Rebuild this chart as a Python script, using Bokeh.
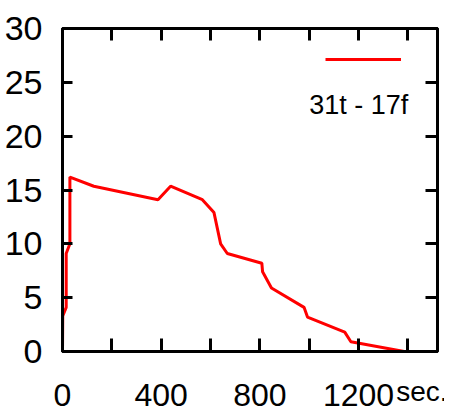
from bokeh.plotting import figure
from bokeh.models import LinearAxis, FixedTicker, Range1d, Legend, LegendItem, Label
from bokeh.embed import file_html
from bokeh.resources import INLINE

# ---- data ----
t_sec = [0, 1, 15, 15, 30, 30, 127, 387, 438, 567, 614, 641, 668, 808, 811, 847, 979, 993, 1144, 1169, 1385]
level = [0, 3.3, 4.1, 9.1, 10.0, 16.2, 15.35, 14.1, 15.35, 14.1, 12.9, 10.0, 9.1, 8.2, 7.4, 5.9, 4.1, 3.2, 1.8, 0.9, 0]
series_name = "31t - 17f"
x_ticks = [0, 200, 400, 600, 800, 1000, 1200, 1400]
x_tick_labels = ["0", "", "400", "", "800", "", "1200", ""]
y_ticks = [0, 5, 10, 15, 20, 25, 30]
x_unit = "sec."

FONT = "Liberation Sans"

p = figure(width=444, height=420, output_backend="svg", toolbar_location=None,
           x_range=Range1d(0, 1520), y_range=Range1d(0, 30),
           min_border_left=62, min_border_right=7, min_border_top=28, min_border_bottom=69)
p.outline_line_color = "black"
p.outline_line_width = 3
p.xgrid.grid_line_color = None
p.ygrid.grid_line_color = None
p.background_fill_color = "white"
p.border_fill_color = "white"

def style(ax):
    ax.axis_line_width = 3
    ax.axis_line_color = "black"
    ax.major_tick_line_width = 3
    ax.major_tick_line_color = "black"
    ax.major_tick_out = 0
    ax.minor_tick_out = 0
    ax.minor_tick_in = 0
    ax.minor_tick_line_color = None

xa = p.xaxis[0]
xa.ticker = FixedTicker(ticks=x_ticks)
xa.major_label_overrides = {t: lab for t, lab in zip(x_ticks, x_tick_labels)}
style(xa)
xa.major_tick_in = 13
xa.major_label_standoff = 32
xa.major_label_text_font = FONT
xa.major_label_text_font_size = "32px"
xa.major_label_text_color = "black"
# unit label sits at the right end of the axis; trailing no-break spaces shift
# the centred text left so it ends at the window edge like the reference
xa.axis_label = x_unit + "\u00a0\u00a0\u00a0\u00a0"
xa.axis_label_align = "end"
xa.axis_label_standoff = -33
xa.axis_label_text_font = FONT
xa.axis_label_text_font_style = "normal"
xa.axis_label_text_font_size = "28px"
xa.axis_label_text_color = "black"

ya = p.yaxis[0]
ya.ticker = FixedTicker(ticks=y_ticks)
style(ya)
ya.major_tick_in = 10
ya.major_label_standoff = 20
ya.major_label_text_font = FONT
ya.major_label_text_font_size = "34px"
ya.major_label_text_color = "black"

top = LinearAxis(ticker=FixedTicker(ticks=x_ticks), major_label_standoff=0,
                 major_label_overrides={t: "" for t in x_ticks})
style(top)
top.major_tick_in = 12
p.add_layout(top, "above")

right = LinearAxis(ticker=FixedTicker(ticks=y_ticks), major_label_standoff=0,
                   major_label_overrides={t: "" for t in y_ticks})
style(right)
right.major_tick_in = 12
p.add_layout(right, "right")

r = p.line(t_sec, level, line_color="red", line_width=3)

legend = Legend(items=[LegendItem(label="", renderers=[r])], location=(263, 282),
                glyph_width=76, glyph_height=20, label_standoff=0, label_width=0,
                padding=0, margin=0, border_line_color=None, background_fill_alpha=0)
p.add_layout(legend)

p.add_layout(Label(x=1000, y=22.85, text=series_name, text_font=FONT, text_font_size="27px",
                   text_color="black", text_baseline="alphabetic"))

open("out.html", "w").write(file_html(p, INLINE))
